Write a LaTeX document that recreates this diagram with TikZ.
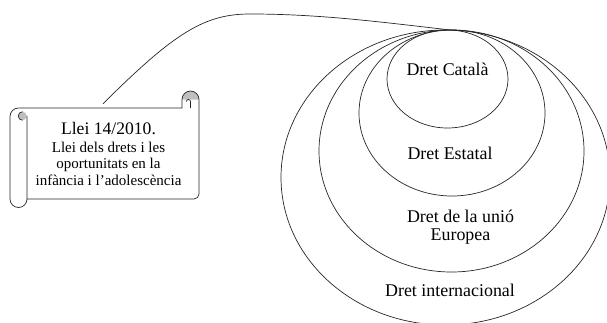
\documentclass[tikz,border=0pt]{standalone}
\usepackage{fontspec}
\setmainfont{Liberation Serif}
\usetikzlibrary{shapes.geometric}
\newcommand{\dretfont}{\fontsize{17.9}{18}\selectfont}

\begin{document}
\begin{tikzpicture}[x=1pt,y=1pt]
    \tikzset{ring/.style={draw=black!85,ellipse,inner sep=0pt,line width=0.7pt},
             scrollline/.style={draw=black!85,line width=0.7pt},
             rollgray/.style={fill=black!25}}
    \useasboundingbox (0,0) rectangle (607,322);
    % the rings
    \node[ring,minimum width=329pt,minimum height=295pt](INT) at (445.5,144.5){};
    \node[ring,minimum width=265pt,minimum height=242pt](UE) at (451.5,171){};
    \node[ring,minimum width=186pt,minimum height=166pt](EST) at (452,209){};
    \node[ring,minimum width=121pt,minimum height=98pt](CAT) at (447.5,243){};
    \node[font=\dretfont](CATt) at (447.5,253){Dret Català};
    \node[font=\dretfont](ESTt) at (450,169){Dret Estatal};
    \node[font=\dretfont,align=center](UEt) at (460.5,95){Dret de la unió\\Europea};
    \node[font=\dretfont](INTt) at (450,32){Dret internacional};
    % the scroll
    \fill[rollgray] (182,222.5) arc[start angle=180,end angle=0,radius=8.5] -- cycle;
    \fill[rollgray] (22.5,206) circle[radius=4.25];
    \draw[scrollline] (18.5,214) -- (182,214) -- (182,222.5) arc[start angle=180,end angle=0,radius=8.5]
          -- (199,128) arc[start angle=0,end angle=-90,radius=5] -- (27,123);
    \draw[scrollline] (27,206) -- (27,123) arc[start angle=0,end angle=-180,radius=8.5]
          -- (10,205.5) arc[start angle=180,end angle=90,radius=8.5];
    \draw[scrollline] (22.5,210.25) arc[start angle=90,end angle=270,radius=4.25];
    \draw[scrollline] (190.5,214) -- (190.5,220.4) arc[start angle=0,end angle=180,radius=2.1];
    \node[minimum width=181pt,minimum height=91pt,inner sep=0pt,align=center,
          font=\fontsize{15}{16.5}\selectfont](scroll) at (108.5,168.5)
        {{\fontsize{17.6}{19}\selectfont Llei 14/2010.}\\[1.5pt]
         Llei dels drets i les\\
         oportunitats en la\\
         infància i l'adolescència};
    \draw[scrollline] ([shift={(-5.5,4)}]scroll.north) .. controls (175,290) and (205,308) .. (250,308)
          .. controls (320,308) and (380,300) .. (CAT.north);
\end{tikzpicture}
\end{document}
